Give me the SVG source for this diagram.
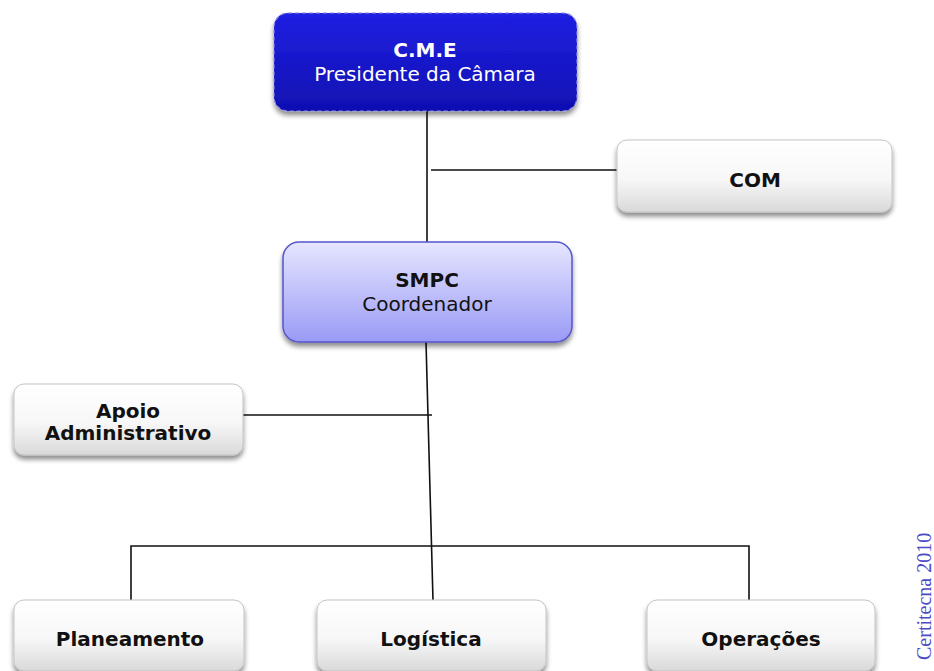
<svg xmlns="http://www.w3.org/2000/svg" width="934" height="671" viewBox="0 0 934 671">
  <defs>
    <linearGradient id="gBlue" x1="0" y1="0" x2="0" y2="1">
      <stop offset="0" stop-color="#2020e2"/>
      <stop offset="1" stop-color="#1010b2"/>
    </linearGradient>
    <linearGradient id="gLilac" x1="0" y1="0" x2="0" y2="1">
      <stop offset="0" stop-color="#e6e6ff"/>
      <stop offset="1" stop-color="#9a9af6"/>
    </linearGradient>
    <linearGradient id="gWhite" x1="0" y1="0" x2="0" y2="1">
      <stop offset="0" stop-color="#ffffff"/>
      <stop offset="0.55" stop-color="#f7f7f7"/>
      <stop offset="1" stop-color="#d9d9d9"/>
    </linearGradient>
    <filter id="shadow" x="-10%" y="-20%" width="120%" height="150%">
      <feGaussianBlur in="SourceAlpha" stdDeviation="2.5"/>
      <feOffset dx="0" dy="4" result="off"/>
      <feComponentTransfer><feFuncA type="linear" slope="0.45"/></feComponentTransfer>
      <feMerge><feMergeNode/><feMergeNode in="SourceGraphic"/></feMerge>
    </filter>
  </defs>
  <style>
    .box { fill: url(#gWhite); stroke: #c4c4c4; stroke-width: 1; filter: url(#shadow); }
    .t { font-family: "DejaVu Sans", Verdana, sans-serif; font-size: 20px; text-anchor: middle; fill: #111; }
    .b { font-weight: bold; }
    .w { fill: #ffffff; }
    .link { fill: none; stroke: #111; stroke-width: 1.6; }
  </style>

  <rect width="934" height="671" fill="#ffffff"/>

  <!-- connectors -->
  <g id="connectors">
    <line class="link" x1="427" y1="111" x2="427" y2="242"/>
    <line class="link" x1="431" y1="170" x2="617" y2="170"/>
    <line class="link" x1="426" y1="342" x2="433" y2="600"/>
    <line class="link" x1="243" y1="415" x2="432" y2="415"/>
    <polyline class="link" points="131,600 131,546 749,546 749,600"/>
  </g>

  <g id="cme">
    <rect x="274" y="13" width="303" height="98" rx="14" fill="url(#gBlue)" stroke="#8a8ae6" stroke-width="1.2" stroke-dasharray="4 3" filter="url(#shadow)"/>
    <text class="t b w" x="425" y="57">C.M.E</text>
    <text class="t w" x="425" y="81" font-size="20.5">Presidente da Câmara</text>
  </g>

  <g id="com">
    <rect class="box" x="617" y="140" width="275" height="72" rx="10"/>
    <text class="t b" x="755" y="187">COM</text>
  </g>

  <g id="smpc">
    <rect x="283" y="242" width="289" height="100" rx="16" fill="url(#gLilac)" stroke="#5656cc" stroke-width="1.5" filter="url(#shadow)"/>
    <text class="t b" x="427" y="287">SMPC</text>
    <text class="t" x="427" y="311">Coordenador</text>
  </g>

  <g id="apoio">
    <rect class="box" x="14" y="384" width="229" height="71" rx="10"/>
    <text class="t b" x="128" y="418">Apoio</text>
    <text class="t b" x="128" y="440">Administrativo</text>
  </g>

  <g id="planeamento">
    <rect class="box" x="14" y="600" width="230" height="71" rx="10"/>
    <text class="t b" x="130" y="646">Planeamento</text>
  </g>

  <g id="logistica">
    <rect class="box" x="317" y="600" width="229" height="71" rx="10"/>
    <text class="t b" x="431" y="646">Logística</text>
  </g>

  <g id="operacoes">
    <rect class="box" x="647" y="600" width="228" height="71" rx="10"/>
    <text class="t b" x="761" y="646">Operações</text>
  </g>

  <text x="931" y="660" transform="rotate(-90 931 660)" font-family="'Liberation Serif', 'Times New Roman', serif" font-size="20" fill="#4b4bc8">Certitecna 2010</text>
</svg>
